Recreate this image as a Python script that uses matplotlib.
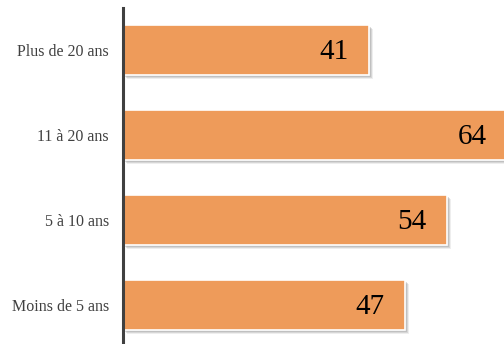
import matplotlib.pyplot as plt
import matplotlib.patheffects as pe

# durée d'ancienneté et effectifs
categories = ['Moins de 5 ans', '5 à 10 ans', '11 à 20 ans', 'Plus de 20 ans']
values = [47, 54, 64, 41]

bar_color = '#EE9B5A'
text_color = '#404040'

fig = plt.figure(figsize=(5.04, 3.44), dpi=100)
ax = fig.add_axes([123 / 504, -3.5 / 344, 381 / 504, 340 / 344])

# ombre douce : plusieurs couches décalées
shadow = [pe.SimplePatchShadow(offset=(3.0, -3.0), shadow_rgbFace='#909090', alpha=0.15),
          pe.SimplePatchShadow(offset=(2.2, -2.2), shadow_rgbFace='#909090', alpha=0.25),
          pe.SimplePatchShadow(offset=(1.4, -1.4), shadow_rgbFace='#909090', alpha=0.3),
          pe.Normal()]
bars = ax.barh(range(len(categories)), values, height=0.59, color=bar_color,
               edgecolor='white', linewidth=1.2)
for b in bars:
    b.set_path_effects(shadow)

# valeurs à l'intérieur des barres, près de l'extrémité
for i, v in enumerate(values):
    ax.annotate(str(v), xy=(v, i), xytext=(-14.5, -1.5), textcoords='offset points',
                ha='right', va='center', fontsize=21, family='Liberation Serif',
                color='black', annotation_clip=False)

ax.set_xlim(0, 63.5)
ax.set_ylim(-0.5, 3.5)
ax.set_yticks(range(len(categories)))
ax.set_yticklabels(categories, family='Liberation Serif', fontsize=11.5, color=text_color)
ax.tick_params(axis='y', length=0, pad=10)
ax.set_xticks([])
for s in ['top', 'right', 'bottom']:
    ax.spines[s].set_visible(False)
ax.spines['left'].set_color('#404040')
ax.spines['left'].set_linewidth(2.2)

fig.savefig('out.png', dpi=100)
